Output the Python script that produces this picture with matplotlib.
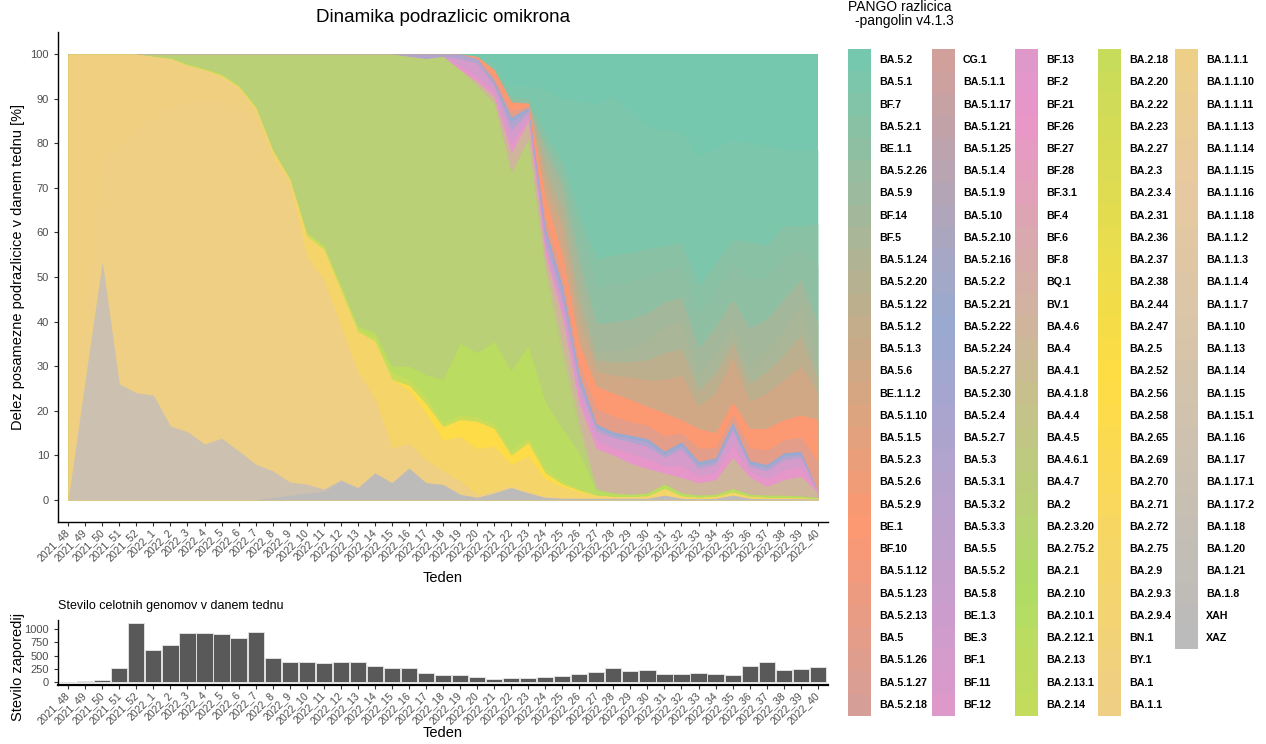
import numpy as np
import matplotlib
matplotlib.use("Agg")
import matplotlib.pyplot as plt
from matplotlib.colors import to_rgb
from matplotlib.patches import Rectangle

plt.rcParams['font.family'] = ['Liberation Sans', 'DejaVu Sans']

W, H = 1266, 744

# ---------------- data ----------------
weeks = ["2021_48", "2021_49", "2021_50", "2021_51", "2021_52",
         "2022_1", "2022_2", "2022_3", "2022_4", "2022_5", "2022_6", "2022_7", "2022_8",
         "2022_9", "2022_10", "2022_11", "2022_12", "2022_13", "2022_14", "2022_15",
         "2022_16", "2022_17", "2022_18", "2022_19", "2022_20", "2022_21", "2022_22",
         "2022_23", "2022_24", "2022_25", "2022_26", "2022_27", "2022_28", "2022_29",
         "2022_30", "2022_31", "2022_32", "2022_33", "2022_34", "2022_35", "2022_36",
         "2022_37", "2022_38", "2022_39", "2022_40"]

n_genomes = [0, 15, 30, 267, 1120, 600, 707, 927, 927, 913, 827, 947, 460, 387, 387,
             367, 387, 387, 307, 267, 260, 167, 133, 127, 87, 60, 73, 73, 87, 113,
             147, 193, 260, 213, 220, 160, 160, 167, 147, 127, 307, 387, 227, 247, 280]

legend_col1 = ["BA.5.2", "BA.5.1", "BF.7", "BA.5.2.1", "BE.1.1", "BA.5.2.26", "BA.5.9", "BF.14",
               "BF.5", "BA.5.1.24", "BA.5.2.20", "BA.5.1.22", "BA.5.1.2", "BA.5.1.3", "BA.5.6",
               "BE.1.1.2", "BA.5.1.10", "BA.5.1.5", "BA.5.2.3", "BA.5.2.6", "BA.5.2.9", "BE.1",
               "BF.10", "BA.5.1.12", "BA.5.1.23", "BA.5.2.13", "BA.5", "BA.5.1.26", "BA.5.1.27",
               "BA.5.2.18"]
legend_col2 = ["CG.1", "BA.5.1.1", "BA.5.1.17", "BA.5.1.21", "BA.5.1.25", "BA.5.1.4", "BA.5.1.9",
               "BA.5.10", "BA.5.2.10", "BA.5.2.16", "BA.5.2.2", "BA.5.2.21", "BA.5.2.22",
               "BA.5.2.24", "BA.5.2.27", "BA.5.2.30", "BA.5.2.4", "BA.5.2.7", "BA.5.3", "BA.5.3.1",
               "BA.5.3.2", "BA.5.3.3", "BA.5.5", "BA.5.5.2", "BA.5.8", "BE.1.3", "BE.3", "BF.1",
               "BF.11", "BF.12"]
legend_col3 = ["BF.13", "BF.2", "BF.21", "BF.26", "BF.27", "BF.28", "BF.3.1", "BF.4", "BF.6", "BF.8",
               "BQ.1", "BV.1", "BA.4.6", "BA.4", "BA.4.1", "BA.4.1.8", "BA.4.4", "BA.4.5",
               "BA.4.6.1", "BA.4.7", "BA.2", "BA.2.3.20", "BA.2.75.2", "BA.2.1", "BA.2.10",
               "BA.2.10.1", "BA.2.12.1", "BA.2.13", "BA.2.13.1", "BA.2.14"]
legend_col4 = ["BA.2.18", "BA.2.20", "BA.2.22", "BA.2.23", "BA.2.27", "BA.2.3", "BA.2.3.4",
               "BA.2.31", "BA.2.36", "BA.2.37", "BA.2.38", "BA.2.44", "BA.2.47", "BA.2.5",
               "BA.2.52", "BA.2.56", "BA.2.58", "BA.2.65", "BA.2.69", "BA.2.70", "BA.2.71",
               "BA.2.72", "BA.2.75", "BA.2.9", "BA.2.9.3", "BA.2.9.4", "BN.1", "BY.1", "BA.1",
               "BA.1.1"]
legend_col5 = ["BA.1.1.1", "BA.1.1.10", "BA.1.1.11", "BA.1.1.13", "BA.1.1.14", "BA.1.1.15",
               "BA.1.1.16", "BA.1.1.18", "BA.1.1.2", "BA.1.1.3", "BA.1.1.4", "BA.1.1.7", "BA.1.10",
               "BA.1.13", "BA.1.14", "BA.1.15", "BA.1.15.1", "BA.1.16", "BA.1.17", "BA.1.17.1",
               "BA.1.17.2", "BA.1.18", "BA.1.20", "BA.1.21", "BA.1.8", "XAH", "XAZ"]

# weekly share [%] of the lineages that are visible in the chart
share_XAH = [0] * 12 + [.5, 1, 1.5, 1.9, 4.2, 2.7, 6, 3.8, 7.1, 3.8, 3.4, 1.2, .5, 1.5, 2.7, 1.5,
                        .5, .3, .3, .3, .3, .3, .3, 1, .3, .2, .3, 1, .3, .2, .2, .2, .1]
share_BA_1_17 = [0, 27, 53.5, 26, 24, 23.5, 16.5, 15.3, 12.5, 13.8, 11, 8, 6, 3, 2, .5, .3] + [0] * 28
share_BA_1_1 = [0, 12, 22.5, 54, 59, 62.5, 71.5, 73.7, 77, 75.7, 77, 76, 68.5, 66, 50.3, 46.2, 34,
                25.5, 16.5, 7.6, 5.4, 5, 3, 3, .5, .5, .3, .3, .2, .2] + [0] * 15
share_BA_1 = [100, 61, 24, 20, 17, 13.5, 11, 8.5, 7, 5.5, 4.5, 3.5, 2.5, 1.5, 1, 1, .5, .5, .3,
              .2, .2, .2] + [0] * 23
share_BA_2_9 = [0] * 9 + [.2, .2, .5, .8, .4, 4.4, 6.6, 8, 9, 12.8, 15.4, 12, 10.5, 7, 10, 10.5,
                          10, 5, 8, 4, 2.5, 1.5, .7, .4, .4, .5, 1.5, .5, .3, .4, .7, .4, .3, .3, .2, .1]
share_BA_2_56 = [0] * 20 + [1, 2, 3, 3.8, 6.1, 4, 2, 3, 1.3, .5, .3] + [0] * 14
share_BA_2_18 = [0] * 6 + [.2, .3, .3, .3, .3, .3, .3, .3, .8, .8, 1, .8, 1, 1.5, 1.3, 1.5, 1,
                           1.2, 1, 1, 1, 1.2, 1, .7, .4] + [0] * 14
share_BA_2_12_1 = [0] * 17 + [.5, 1, 1.5, 3, 5, 9.6, 15.8, 14.4, 18.5, 18, 20.5, 15, 11.8, 8, 1,
                              .8, .5, .7, 1, .7, .5, .5, .8, .5, .5, .5, .4, .3]
share_BA_2 = [0, 0, 0, 0, 0, .5, .8, 2.2, 3.2, 4.5, 7, 11.7, 21.4, 27.8, 40, 43, 52, 61, 62.4,
              70, 69.5, 71, 72.5, 61.5, 60, 53.5, 44.4, 46.3, 29, 16, 5, .5] + [0] * 13
share_BA_4_5 = [0] * 28 + [1.5, 3, 2] + [0] * 14
share_BA_4_6 = [0] * 24 + [1, 1.5, 4.5, 4.2, 2.5, 6, 4, 9, 8.5, 7, 5.5, 2.5, 3.5, 2.8, 3.3, 7,
                           3.9, 2, 3.5, 4.5, 1.1]
share_BF_21 = [0] * 23 + [1, 1, 1, 2, .8, 1.2, 1.5, 1.8, 1.8, 1.7, 2.2, 2.2, 1.6, 2.7, 1.5, 1.6,
                          2.7, 1.2, 1.7, 2.2, 2, .1]
share_BF_1 = [0] * 23 + [1.5, 3, 1.5, 3.1, 1.2, 1.8, 2, 2.2, 2.2, 2.2, 2.6, 2.7, 1.9, 3.7, 1.7,
                         1.9, 3.2, 1.2, 1.8, 2.3, 2.2, .1]
share_BA_5_3 = [0] * 20 + [.5, 1, .5, 1, 1, .5, 1.9, .5, 2, 2.3, 1.5, .7, .6, .8, 1, .7, .8, .8,
                           .7, 1, .6, .7, .8, .7, .05]
share_BA_5_2_22 = [0] * 25 + [.5, 1, .5, 1, 1.2, 1, .8, .7, .7, .8, .7, .8, .8, .7, 1, .7, .7,
                              .7, .7, .05]
share_BA_5 = [0] * 25 + [1, 1.4, .4, 2.5, 2.5, 2.5, 3.5, 3.5, 3, 3, 3.5, 2, 3, 2.3, 1.8, 2.9,
                         3.2, 3, 3.2, 6.6]
share_BE_1 = [0] * 24 + [.5, 1.5, 2, .6, 4.5, 4.5, 4.5, 5, 5.2, 5, 4.2, 5.1, 2.9, 4.4, 3.3, 2.7,
                         4.3, 4.9, 4.5, 4.9, 9.5]
share_BA_5_6 = [0] * 28 + [4, 6, 5, 3.5, 4, 5, 6, 7.5, 10, 5, 9, 10, 6, 8, 9, 11, 6]
share_BA_5_1_22 = [0] * 28 + [3, 4, 5, 2.5, 3, 3.5, 4.5, 6, 6, 3.5, 4.5, 3.5, 4, 4.8, 5.5, 7, 3]
share_BF_5 = [0] * 28 + [3, 4, 5, 2, 2.5, 3, 4.5, 6, 6, 3.5, 4.5, 3.5, 4, 4.8, 5.5, 7, 3]
share_BF_14 = [0] * 28 + [1, 2, 4, 6, 6.5, 6.5, 6, 5.5, 5.5, 6, 6, 6, 8.5, 7, 7, 5.5, 9.5]
share_BE_1_1 = [0] * 26 + [1, 1, 2, 3, 6, 8.5, 8.5, 8.5, 8.5, 7, 7.2, 8, 8, 8, 11, 9.4, 9.5, 7, 13]
share_BA_5_2_1 = [0] * 28 + [1, 2, 4, 6, 6.5, 6.5, 6, 5.5, 5, 6, 6, 5.5, 8.5, 7, 7, 5, 9.5]
share_BA_5_1 = [0] * 25 + [1.5, 2.7, 3, 10, 14, 25.5, 35, 35.5, 31.5, 27.3, 26, 24.6, 29, 26,
                           22.3, 22.1, 22.5, 17.1, 17.1, 16.6]
share_BA_5_2 = [0] * 24 + [.5, 2, 7, 7, 8, 10, 10.5, 11, 9.5, 13, 16.2, 17, 17.7, 23, 21, 19.2,
                           19.9, 20.5, 21.4, 21.4, 21.4]

shares = {
    "XAH": share_XAH, "BA.1.17": share_BA_1_17, "BA.1.1": share_BA_1_1, "BA.1": share_BA_1,
    "BA.2.9": share_BA_2_9, "BA.2.56": share_BA_2_56, "BA.2.18": share_BA_2_18,
    "BA.2.12.1": share_BA_2_12_1, "BA.2": share_BA_2, "BA.4.5": share_BA_4_5,
    "BA.4.6": share_BA_4_6, "BF.21": share_BF_21, "BF.1": share_BF_1, "BA.5.3": share_BA_5_3,
    "BA.5.2.22": share_BA_5_2_22, "BA.5": share_BA_5, "BE.1": share_BE_1, "BA.5.6": share_BA_5_6,
    "BA.5.1.22": share_BA_5_1_22, "BF.5": share_BF_5, "BF.14": share_BF_14,
    "BE.1.1": share_BE_1_1, "BA.5.2.1": share_BA_5_2_1,
    "BA.5.1": share_BA_5_1, "BA.5.2": share_BA_5_2,
}

# ---------------- colours: Set2 ramp over all lineages, alpha 0.9 on white ----------------
legend_cols = [legend_col1, legend_col2, legend_col3, legend_col4, legend_col5]
lineages = [name for col in legend_cols for name in col]
set2 = ["#66C2A5", "#FC8D62", "#8DA0CB", "#E78AC3", "#A6D854", "#FFD92F", "#E5C494", "#B3B3B3"]
rgb = np.array([to_rgb(c) for c in set2])
pos = np.linspace(0, len(set2) - 1, len(lineages))
base = np.arange(len(set2))
colors = [tuple(0.9 * np.interp(p, base, rgb[:, k]) + 0.1 for k in range(3)) for p in pos]

x = np.arange(len(weeks))
zeros = [0] * len(weeks)
order = lineages[::-1]              # bottom of the stack first (XAZ ... BA.5.2)
stack = np.array([shares.get(name, zeros) for name in order], dtype=float)
stack = stack / stack.sum(axis=0) * 100
tops = np.cumsum(stack, axis=0)

fig = plt.figure(figsize=(W / 100, H / 100), dpi=100)


def frac(left, top, right, bottom):
    return [left / W, 1 - bottom / H, (right - left) / W, (bottom - top) / H]


grey30 = "#4D4D4D"

# ---------------- main stacked area ----------------
# painted from the top layer down, each one filled from 0 to its cumulative top,
# so neighbouring layers share no anti-aliased seam
ax = fig.add_axes(frac(58, 32, 828, 522))
for k in range(len(order) - 1, -1, -1):
    name = order[k]
    if name not in shares:
        continue
    ax.fill_between(x, 0, tops[k], color=colors[lineages.index(name)], linewidth=0)
ax.set_xlim(-0.6, len(weeks) - 0.4)
ax.set_ylim(-5, 105)
ax.set_yticks(range(0, 101, 10))
ax.set_xticks(x)
ax.set_xticklabels(weeks, rotation=45, ha="right", va="center", rotation_mode="anchor")
ax.spines[["top", "right"]].set_visible(False)

# ---------------- genome counts ----------------
ax2 = fig.add_axes(frac(58, 620, 828, 685))
ax2.bar(x, n_genomes, width=0.95, color="#595959", edgecolor="#E0E0E0", linewidth=0.7)
ax2.set_xlim(-0.6, len(weeks) - 0.4)
ax2.set_ylim(-56, 1176)
ax2.set_yticks([0, 250, 500, 750, 1000])
ax2.set_xticks(x)
ax2.set_xticklabels(weeks, rotation=45, ha="right", va="center", rotation_mode="anchor")
ax2.spines[["top", "right"]].set_visible(False)

for a in (ax, ax2):
    a.tick_params(axis="both", colors="#333333", labelcolor=grey30, length=3, width=0.8,
                  labelsize=8)
    a.tick_params(axis="x", labelsize=7.5, pad=3)
    for s in ("left", "bottom"):
        a.spines[s].set_linewidth(1.0)
        a.spines[s].set_color("black")
ax2.spines["bottom"].set_linewidth(1.6)

fig.text(443 / W, 1 - 18 / H, "Dinamika podrazlicic omikrona", ha="center", va="center",
         fontsize=13.5)
fig.text(18 / W, 1 - 267 / H, "Delez posamezne podrazlicice v danem tednu [%]", rotation=90,
         ha="center", va="center", fontsize=10.5)
fig.text(443 / W, 1 - 578 / H, "Teden", ha="center", va="center", fontsize=10.5)
fig.text(58 / W, 1 - 606 / H, "Stevilo celotnih genomov v danem tednu", ha="left", va="center",
         fontsize=9)
fig.text(18 / W, 1 - 667 / H, "Stevilo zaporedij", rotation=90, ha="center", va="center",
         fontsize=10.5)
fig.text(443 / W, 1 - 733 / H, "Teden", ha="center", va="center", fontsize=10.5)

# ---------------- legend ----------------
lax = fig.add_axes([0, 0, 1, 1])
lax.set_xlim(0, W)
lax.set_ylim(H, 0)
lax.axis("off")
col_x = [848, 932, 1015, 1098, 1175]
row_h = 22.23
top = 49
key_w = 23
for c, col in enumerate(legend_cols):
    for r, name in enumerate(col):
        idx = lineages.index(name)
        lax.add_patch(Rectangle((col_x[c], top + r * row_h), key_w, row_h,
                                facecolor=colors[idx], linewidth=0))
        lax.text(col_x[c] + key_w + 8, top + (r + 0.5) * row_h, name, fontsize=7.7,
                 fontweight="bold", ha="left", va="center")
lax.text(848, 7, "PANGO razlicica", fontsize=10, ha="left", va="center")
lax.text(855, 21, "-pangolin v4.1.3", fontsize=10, ha="left", va="center")

fig.savefig("out.png", dpi=100)
